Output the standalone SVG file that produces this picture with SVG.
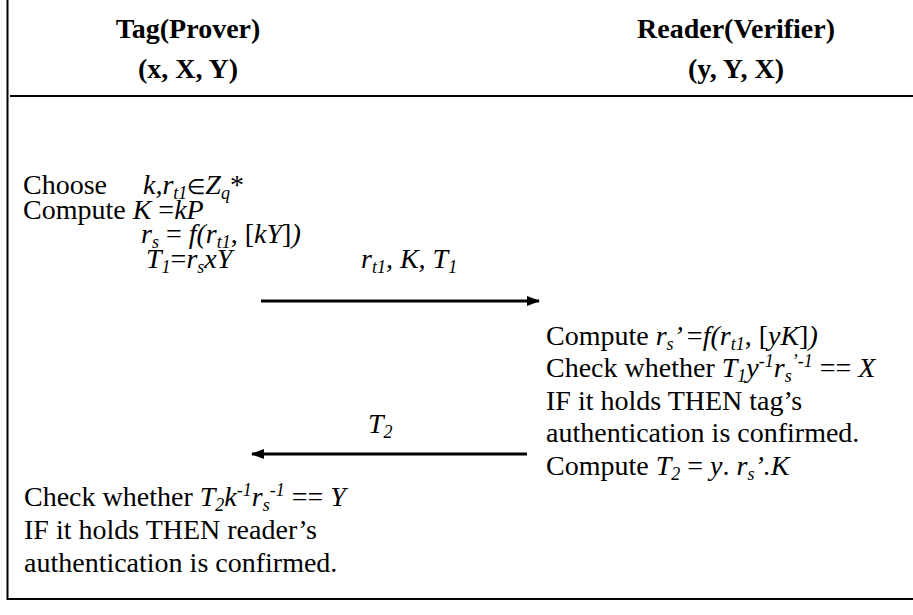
<svg xmlns="http://www.w3.org/2000/svg" width="913" height="615" viewBox="0 0 913 615">
<style>
text{font-family:"Liberation Serif","Times New Roman",serif;font-size:28px;fill:#000}
.b{font-weight:bold}
.i{font-style:italic}
.sub{font-size:18px;baseline-shift:-5px}
.sup{font-size:18px;baseline-shift:10px}
.el{font-size:21px}
.frame{stroke:#000;fill:none}
.msg{stroke:#000;stroke-width:3;fill:none}
</style>
<defs>
<marker id="ah" viewBox="0 0 13 10" refX="12" refY="5" markerWidth="13" markerHeight="10" markerUnits="userSpaceOnUse" orient="auto">
<path d="M0,0 L13,5 L0,10 Z" fill="#000"/>
</marker>
</defs>
<g id="frame">
<line class="frame" x1="7.5" y1="0" x2="7.5" y2="600" stroke-width="2"/>
<line class="frame" x1="7" y1="599" x2="913" y2="599" stroke-width="2"/>
<line class="frame" x1="10" y1="96" x2="913" y2="96" stroke-width="2"/>
</g>
<g id="tag">
<text class="b" x="188" y="38" text-anchor="middle">Tag(Prover)</text>
<text class="b" x="188" y="78" text-anchor="middle">(x, X, Y)</text>
</g>
<g id="reader">
<text class="b" x="736" y="38" text-anchor="middle">Reader(Verifier)</text>
<text class="b" x="736" y="78" text-anchor="middle">(y, Y, X)</text>
</g>
<g id="tag-steps">
<text x="23" y="194">Choose</text>
<text x="143" y="194"><tspan class="i">k,r</tspan><tspan class="i sub">t1</tspan><tspan class="el">∈</tspan><tspan class="i">Z</tspan><tspan class="i sub">q</tspan>*</text>
<text x="23" y="219">Compute <tspan class="i">K </tspan>=<tspan class="i">kP</tspan></text>
<text x="141" y="243"><tspan class="i">r</tspan><tspan class="i sub">s</tspan> = <tspan class="i">f(r</tspan><tspan class="i sub">t1</tspan>, [<tspan class="i">kY</tspan>]<tspan class="i">)</tspan></text>
<text x="146" y="268"><tspan class="i">T</tspan><tspan class="i sub">1</tspan>=<tspan class="i">r</tspan><tspan class="i sub">s</tspan><tspan class="i">xY</tspan></text>
</g>
<g id="reader-steps">
<text x="546" y="345">Compute  <tspan class="i">r</tspan><tspan class="i sub">s</tspan><tspan class="i">’ </tspan>=<tspan class="i">f(r</tspan><tspan class="i sub">t1</tspan>, [<tspan class="i">yK</tspan>]<tspan class="i">)</tspan></text>
<text x="546" y="377">Check whether  <tspan class="i">T</tspan><tspan class="i sub">1</tspan><tspan class="i">y</tspan><tspan class="i sup">-1</tspan><tspan class="i">r</tspan><tspan class="i sub">s</tspan><tspan class="i sup">’-1</tspan> == <tspan class="i">X</tspan></text>
<text x="546" y="410">IF it holds THEN tag’s</text>
<text x="546" y="442">authentication is confirmed.</text>
<text x="546" y="475">Compute  <tspan class="i">T</tspan><tspan class="i sub">2</tspan> = <tspan class="i">y</tspan>. <tspan class="i">r</tspan><tspan class="i sub">s</tspan><tspan class="i">’.K</tspan></text>
</g>
<g id="tag-check">
<text x="24" y="506">Check whether <tspan class="i">T</tspan><tspan class="i sub">2</tspan><tspan class="i">k</tspan><tspan class="i sup">-1</tspan><tspan class="i">r</tspan><tspan class="i sub">s</tspan><tspan class="i sup">-1</tspan> == <tspan class="i">Y</tspan></text>
<text x="24" y="539">IF it holds THEN reader’s</text>
<text x="24" y="572">authentication is confirmed.</text>
</g>
<g id="connectors">
<line class="msg" x1="261" y1="301" x2="539" y2="301" marker-end="url(#ah)"/>
<text x="361" y="268"><tspan class="i">r</tspan><tspan class="i sub">t1</tspan><tspan class="i">, K, T</tspan><tspan class="i sub">1</tspan></text>
<line class="msg" x1="527" y1="454" x2="252" y2="454" marker-end="url(#ah)"/>
<text x="368" y="433"><tspan class="i">T</tspan><tspan class="i sub">2</tspan></text>
</g>
</svg>
